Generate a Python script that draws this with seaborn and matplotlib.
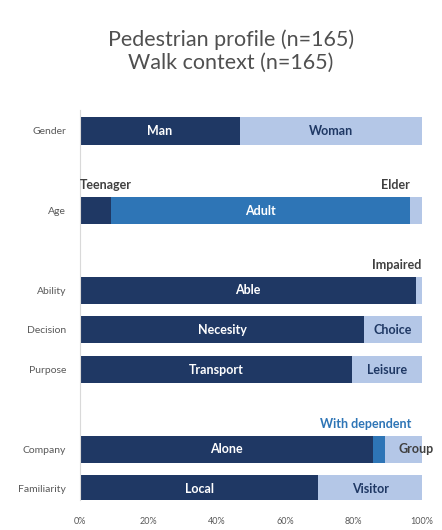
import matplotlib
matplotlib.use("Agg")
import matplotlib.pyplot as plt
import seaborn as sns
import pandas as pd

# rows of the chart (top to bottom) and their slot on the y axis
rows = ["Gender", "Age", "Ability", "Decision", "Purpose", "Company", "Familiarity"]
slots = [0, 2, 4, 5, 6, 8, 9]

# shares in percent: first segment / middle segment / last segment
first_share = [46.7, 9.1, 98.2, 83.0, 79.4, 85.5, 69.7]
middle_share = [0.0, 87.3, 0.0, 0.0, 0.0, 3.6, 0.0]
first_names = ["Man", "Teenager", "Able", "Necesity", "Transport", "Alone", "Local"]
middle_names = ["", "Adult", "", "", "", "With dependent", ""]
last_names = ["Woman", "Elder", "Impaired", "Choice", "Leisure", "Group", "Visitor"]

x_ticks = [0, 20, 40, 60, 80, 100]
x_tick_labels = ["0%", "20%", "40%", "60%", "80%", "100%"]

navy = "#1F3864"
mid_blue = "#2E75B6"
light_blue = "#B4C7E7"
text_gray = "#404040"

sns.set_style("white")
plt.rcParams["font.family"] = ["Lato", "DejaVu Sans"]

df = pd.DataFrame({"row": rows, "pos": slots,
                   "first": first_share, "middle": middle_share})
df["first_mid"] = df["first"] + df["middle"]
df["total"] = 100.0

fig = plt.figure(figsize=(4.42, 5.30), dpi=100)
ax = fig.add_axes([0.181, 0.0566, 0.774, 0.736])

# stacked bars drawn as overlapping cumulative layers
for col, colr in [("total", light_blue), ("first_mid", mid_blue), ("first", navy)]:
    sns.barplot(data=df, x=col, y="pos", orient="h", native_scale=True,
                color=colr, width=0.68, saturation=1, linewidth=0, ax=ax)

ax.set_xlim(0, 100)
ax.set_ylim(9.28, -0.53)
ax.set_yticks(slots)
ax.set_yticklabels(rows)
ax.set_xticks(x_ticks)
ax.set_xticklabels(x_tick_labels)
ax.set_xlabel("")
ax.set_ylabel("")
ax.tick_params(axis="y", length=0, pad=10, labelsize=7.5, labelcolor="#595959")
ax.tick_params(axis="x", length=0, pad=12, labelsize=6.5, labelcolor="#595959")
for side in ["top", "right", "bottom"]:
    ax.spines[side].set_visible(False)
ax.spines["left"].set_color("#D9D9D9")
ax.spines["left"].set_linewidth(0.8)

lab = dict(fontsize=9, fontweight="bold", va="center")

# labels inside segments
for i, r in df.iterrows():
    y = r["pos"]
    if first_names[i] != "Teenager":
        ax.text(r["first"] / 2, y, first_names[i], color="white", ha="center", **lab)
    if middle_names[i] == "Adult":
        ax.text(r["first"] + r["middle"] / 2, y, "Adult", color="white", ha="center", **lab)
    if last_names[i] in ("Woman", "Choice", "Leisure", "Visitor"):
        ax.text((r["first_mid"] + 100) / 2, y, last_names[i], color=navy, ha="center", **lab)

# small segments labelled above / beside the bar
ax.text(0, 1.37, "Teenager", color=text_gray, ha="left", **lab)
ax.text(96.5, 1.37, "Elder", color=text_gray, ha="right", **lab)
ax.text(99.8, 3.37, "Impaired", color=text_gray, ha="right", **lab)
ax.text(97, 7.37, "With dependent", color=mid_blue, ha="right", **lab)
ax.text(93, 8, "Group", color=text_gray, ha="left", clip_on=False, **lab)

fig.text(0.523, 0.925, "Pedestrian profile (n=165)", ha="center", va="center",
         fontsize=15.5, color="#505050")
fig.text(0.523, 0.882, "Walk context (n=165)", ha="center", va="center",
         fontsize=15.5, color="#505050")

fig.savefig("out.png", dpi=100)
